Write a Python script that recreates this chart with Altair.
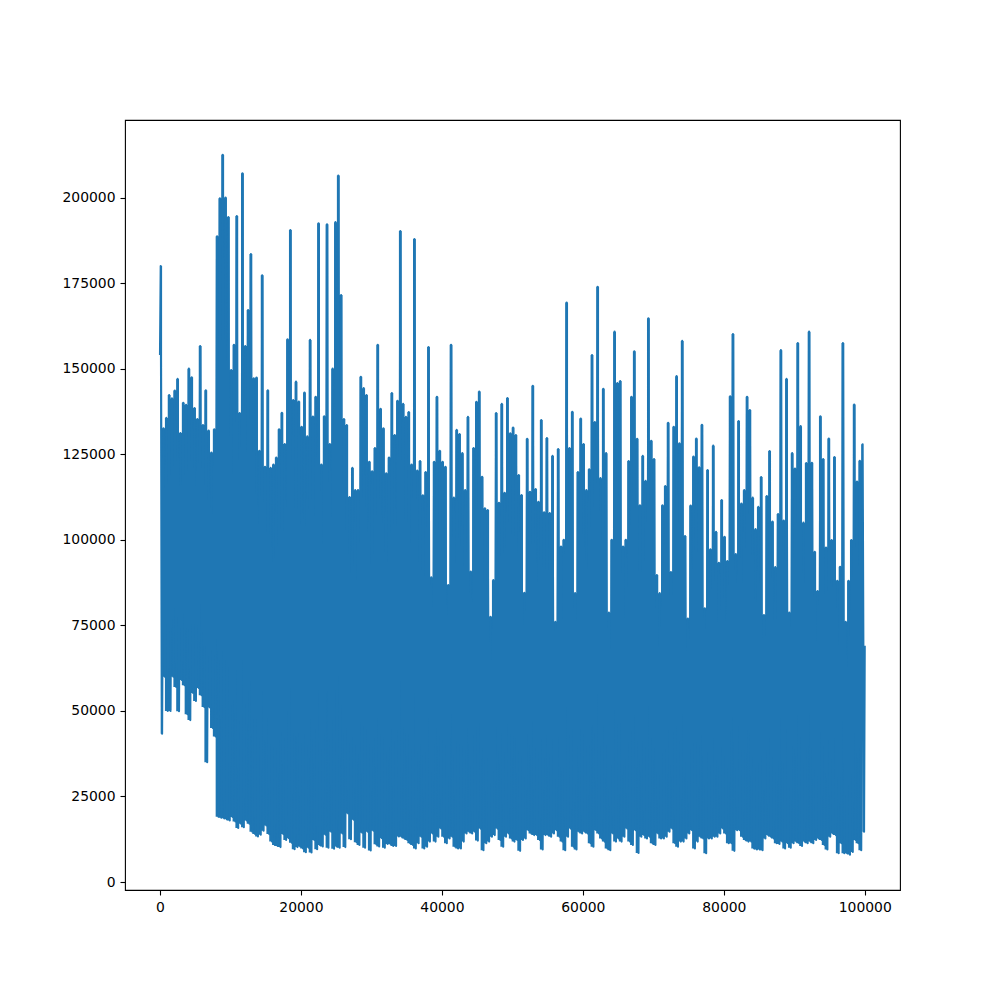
import altair as alt
import pandas as pd

# Upper turning points, one for each 400 samples
highs = [
180000,132600,135600,142300,141300,143600,147000,131200,140000,139400,
150000,147500,138500,135300,156600,133500,143700,131900,125500,132300,
188700,199800,212500,200000,194300,149600,157000,194600,137000,207100,
156600,167100,183500,147200,147400,126000,177300,121300,143700,121000,
122000,124000,132300,137100,128000,158600,190500,140800,146200,140400,
133000,143000,130200,158400,136000,141800,192500,122000,136100,192200,
128000,150000,192800,206400,171500,135300,133500,112500,121000,114500,
114500,147600,144300,142300,122800,120000,126800,157000,138300,132600,
119400,124000,142900,130600,140600,190200,139700,135900,137300,122000,
187900,120200,123000,113000,119800,156300,89000,122800,141800,126000,
122800,121300,86800,157000,112300,132100,130900,125300,114500,135900,
90700,126800,140300,143300,118400,109200,108700,77500,88200,137000,
110800,139700,113700,141400,131100,132800,130600,118900,113100,84500,
129500,114000,145000,114800,111100,135000,108000,129700,107800,124500,
76000,126500,98000,100000,169300,126800,137400,84400,119800,135400,
128000,114500,120600,154000,134400,173900,118000,144100,125300,78700,
100000,160800,145800,146400,98000,100000,123000,141800,155100,129500,
110100,124500,117200,164700,128900,123600,89700,84400,110100,115700,
134200,90600,133000,147800,128200,158100,101100,77000,110000,124300,
129600,121200,133600,80000,120400,97200,127500,102300,93300,111600,
100900,93800,141900,160100,95800,134700,110600,114500,141800,137900,
112300,103100,109600,118300,78000,112800,125900,105300,92000,107500,
155400,105600,147000,78700,125300,120800,157500,133200,105000,122400,
160800,122500,96500,85000,136100,123600,97700,129600,99900,124200,
88000,92100,157500,76000,88000,99900,139500,117000,123100,127900,
]

# Lower turning points, one for each 400 samples
lows = [
43300,60000,50000,50000,60000,57000,49900,59000,57500,49000,
47300,55200,52900,56700,54600,51100,35000,51000,45000,42500,
19100,18800,18600,18300,18000,19000,17700,15800,17000,16000,
18000,17000,14700,14000,13300,13800,15000,16500,14000,11800,
10800,10500,10200,14000,12300,12800,11500,9600,10200,10400,
9800,8700,10000,8600,12300,9600,10800,10400,13800,10000,
14700,9700,10400,10000,14200,10200,20000,12500,18200,11600,
10800,14400,10000,14700,9200,15000,11000,10400,12800,10000,
11100,11100,10500,10500,13300,13200,12700,12300,11300,10800,
9800,11300,13200,9800,10300,11800,14200,11800,13200,15600,
13200,11300,12700,13200,10300,9800,9800,11800,14200,14700,
14200,14700,12100,15600,9300,11300,11800,13200,13700,15600,
12300,10300,13200,14200,12700,11800,12300,9100,12300,12700,
15100,14200,13700,13700,12300,9500,13700,13700,13200,14200,
15100,13200,11800,9300,13200,15600,10300,9500,14700,14200,
14700,14200,11300,10300,15100,14200,12700,11800,9800,9300,
14200,11800,12700,11800,13200,15600,11800,10800,15100,8500,
13200,13700,12700,13200,11300,10800,14200,12700,12700,13200,
14700,15600,11300,10300,11800,11800,12700,14200,15100,9800,
11800,13200,12700,8400,12700,12700,13200,13200,14200,15600,
14200,11300,11300,9100,15100,15100,13200,12300,11800,11800,
9800,9500,9500,9300,12700,13700,13200,12700,11300,11100,
11800,9800,11300,10000,11300,11800,11300,10500,11800,11300,
11800,11300,12300,12700,12300,10800,9500,13200,14200,13700,
8400,11300,8400,8400,8000,8800,12300,11300,9300,14700,
]

first_value = 154000
last_value = 69000
total_samples = 100000
x_ticks = [0, 20000, 40000, 60000, 80000, 100000]
y_ticks = [0, 25000, 50000, 75000, 100000, 125000, 150000, 175000, 200000]

xs = [0]
ys = [first_value]
col_x = []
for i, (hi, lo) in enumerate(zip(highs, lows)):
    xs += [100 + 400 * i, 300 + 400 * i]
    ys += [hi, lo]
    col_x.append(100 + 400 * i)
xs.append(total_samples)
ys.append(last_value)
line_df = pd.DataFrame({"x": xs, "y": ys})
col_df = pd.DataFrame({"x": col_x, "lo": lows, "hi": highs})

axis_opts = dict(format="d", grid=False, tickSize=5, tickWidth=1.1, tickColor="black", domain=False,
                 labelFontSize=13.9, labelColor="black", labelFont="DejaVu Sans", labelPadding=5,
                 labelFlush=False, labelOverlap=False)
x_enc = alt.X("x:Q", title=None, scale=alt.Scale(domain=[-4964, 105000], nice=False, zero=False),
              axis=alt.Axis(values=x_ticks, **axis_opts))
y_scale = alt.Scale(domain=[-2337, 222645], nice=False, zero=False)
y_axis = alt.Axis(values=y_ticks, **axis_opts)

columns = alt.Chart(col_df).mark_area(color="#1f77b4", interpolate="step", opacity=1).encode(
    x=x_enc,
    y=alt.Y("lo:Q", title=None, scale=y_scale, axis=y_axis),
    y2="hi:Q",
)
line = alt.Chart(line_df).mark_line(color="#1f77b4", strokeWidth=2.08, strokeJoin="round").encode(
    x=x_enc,
    y=alt.Y("y:Q", title=None, scale=y_scale, axis=y_axis),
    order="x:Q",
)

chart = (
    alt.layer(columns, line)
    .properties(
        width=775,
        height=770,
        background="white",
        autosize=alt.AutoSizeParams(type="none"),
        padding={"left": 117, "top": 112, "right": 70, "bottom": 100},
    )
    .configure_view(stroke="black", strokeWidth=1.1)
)

chart.save("out.html", embed_options={"renderer": "svg", "actions": False})
